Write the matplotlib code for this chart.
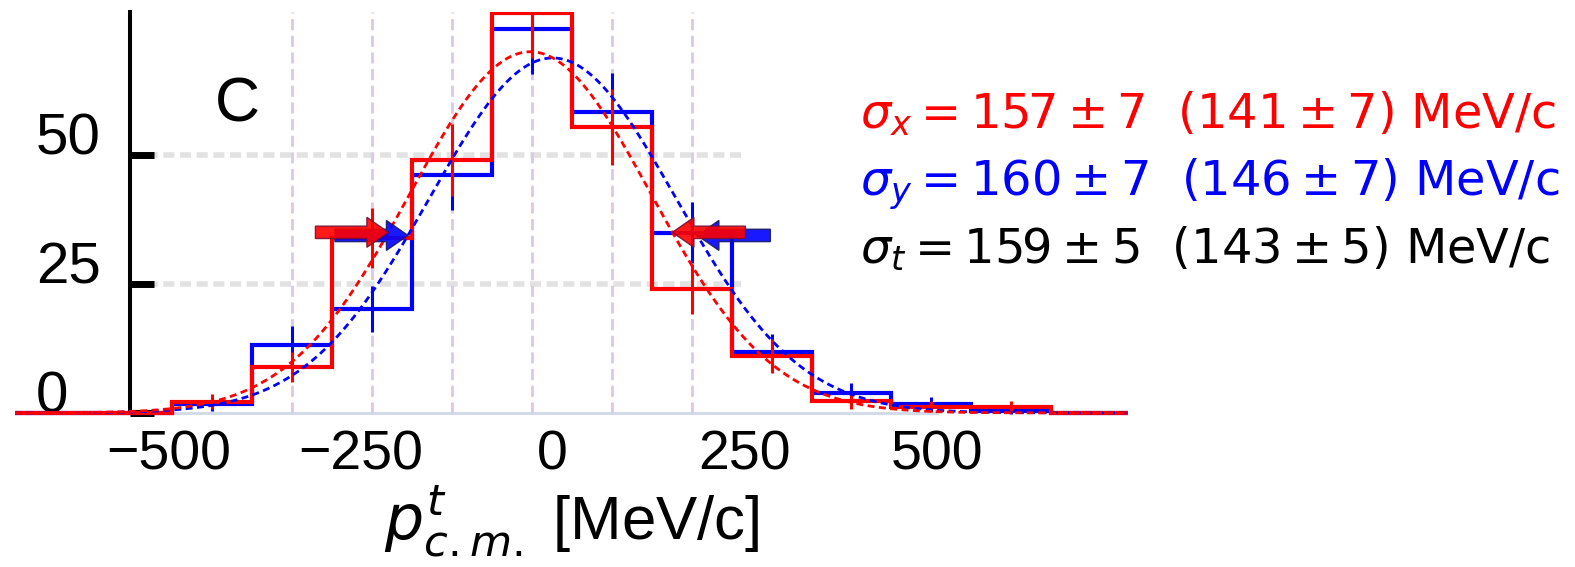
import numpy as np
import matplotlib.pyplot as plt
from matplotlib.patches import FancyArrow

plt.rcParams['font.family'] = ['Liberation Sans', 'DejaVu Sans']
plt.rcParams['mathtext.fontset'] = 'dejavusans'

# transverse c.m. momentum histograms (MeV/c), x and y projections
bin_edges = [-495, -391, -287, -183, -79, 25, 129, 233, 337, 441, 545, 649]
counts_x = [2.2, 8.9, 33.9, 49.0, 77.5, 55.4, 24.0, 11.0, 2.4, 1.2, 1.2]
counts_y = [1.8, 13.2, 20.2, 46.1, 74.4, 58.3, 34.9, 11.8, 3.9, 1.8, 0.4]

# gaussian fits: amplitude, mean, sigma
fit_x = (70.0, -29.0, 157.0)
fit_y = (68.8, 0.0, 160.0)

sigma_labels = [
    (r"$\sigma_x = 157 \pm 7$  $(141 \pm 7)$ MeV/c", "#ff0000"),
    (r"$\sigma_y = 160 \pm 7$  $(146 \pm 7)$ MeV/c", "#0000ff"),
    (r"$\sigma_t = 159 \pm 5$  $(143 \pm 5)$ MeV/c", "black"),
]

xticks = [-500, -250, 0, 250, 500]
yticks = [0, 25, 50]
xmin, xmax = -700, 749
ymin, ymax = -0.6, 77.7
arrow_len = 95

fig = plt.figure(figsize=(15.75, 5.67), dpi=100)
ax = fig.add_axes([0.0095, 0.2663, 0.7067, 0.7125])
ax.set_xlim(xmin, xmax)
ax.set_ylim(ymin, ymax)

edges = np.asarray(bin_edges, float)
centers = 0.5 * (edges[:-1] + edges[1:])

# background grid
ax.plot([xmin, 500], [0, 0], color="#d3dbe8", lw=2.2, zorder=0)
for yv in yticks[1:]:
    ax.plot([-550, 250], [yv, yv], color="#e2e2e2", lw=4, ls=(0, (2, 1)), zorder=0)
for xc in centers[1:7]:
    ax.plot([xc, xc], [0, ymax], color="#dcc8e6", lw=2, ls=(0, (4, 2)), zorder=0)

xx = np.linspace(xmin, xmax, 800)
for counts, (amp, mu, sig), color, edge_c in [
    (counts_y, fit_y, "#0000ff", "#1a1a66"),
    (counts_x, fit_x, "#ff0000", "#7a1030"),
]:
    vals = np.asarray(counts, float)
    ax.stairs(np.r_[0, vals, 0], np.r_[xmin, edges, xmax], baseline=None,
              color=color, lw=3, zorder=3)
    ax.errorbar(centers, vals, yerr=np.sqrt(vals), fmt="none", ecolor=color,
                elinewidth=2.2, capsize=0, zorder=3)
    ax.plot(xx, amp * np.exp(-0.5 * ((xx - mu) / sig) ** 2), color=color,
            lw=2, ls=(0, (2.5, 1.6)), zorder=4)
    # arrows marking the half-maximum points
    hw = sig * np.sqrt(2 * np.log(2))
    for tip, d in [(mu - hw, -1), (mu + hw, 1)]:
        tail = tip + d * arrow_len
        ax.add_patch(FancyArrow(tail, amp / 2, tip - tail, 0, width=2.4,
                                head_width=5.8, head_length=28,
                                length_includes_head=True, fc=color,
                                ec=edge_c, lw=1, alpha=0.9, zorder=5))

for s in ["top", "right", "bottom"]:
    ax.spines[s].set_visible(False)
ax.spines["left"].set_position(("data", -550))
ax.spines["left"].set_linewidth(2.9)
ax.spines["left"].set_bounds(0, ymax)

ax.set_xticks(xticks)
ax.set_yticks(yticks)
ax.tick_params(axis="x", length=0, pad=10, labelsize=40)
ax.tick_params(axis="y", direction="in", length=17, width=5, pad=68, labelsize=42)
for t in ax.get_yticklabels():
    t.set_verticalalignment("baseline")
    t.set_horizontalalignment("left")

ax.text(-411, 59.7, "C", fontsize=45, ha="center", va="center")

ax.set_xlabel(r"$p^t_{c.m.}$ [MeV/c]", fontsize=44.5)
ax.xaxis.set_label_coords(0.5, -0.165)

for i, (txt, color) in enumerate(sigma_labels):
    fig.text(860 / 1575, 1 - (128 + 67.5 * i) / 567, txt, color=color,
             fontsize=34.5, family="DejaVu Sans", ha="left", va="baseline")

fig.savefig("out.png", dpi=100)
